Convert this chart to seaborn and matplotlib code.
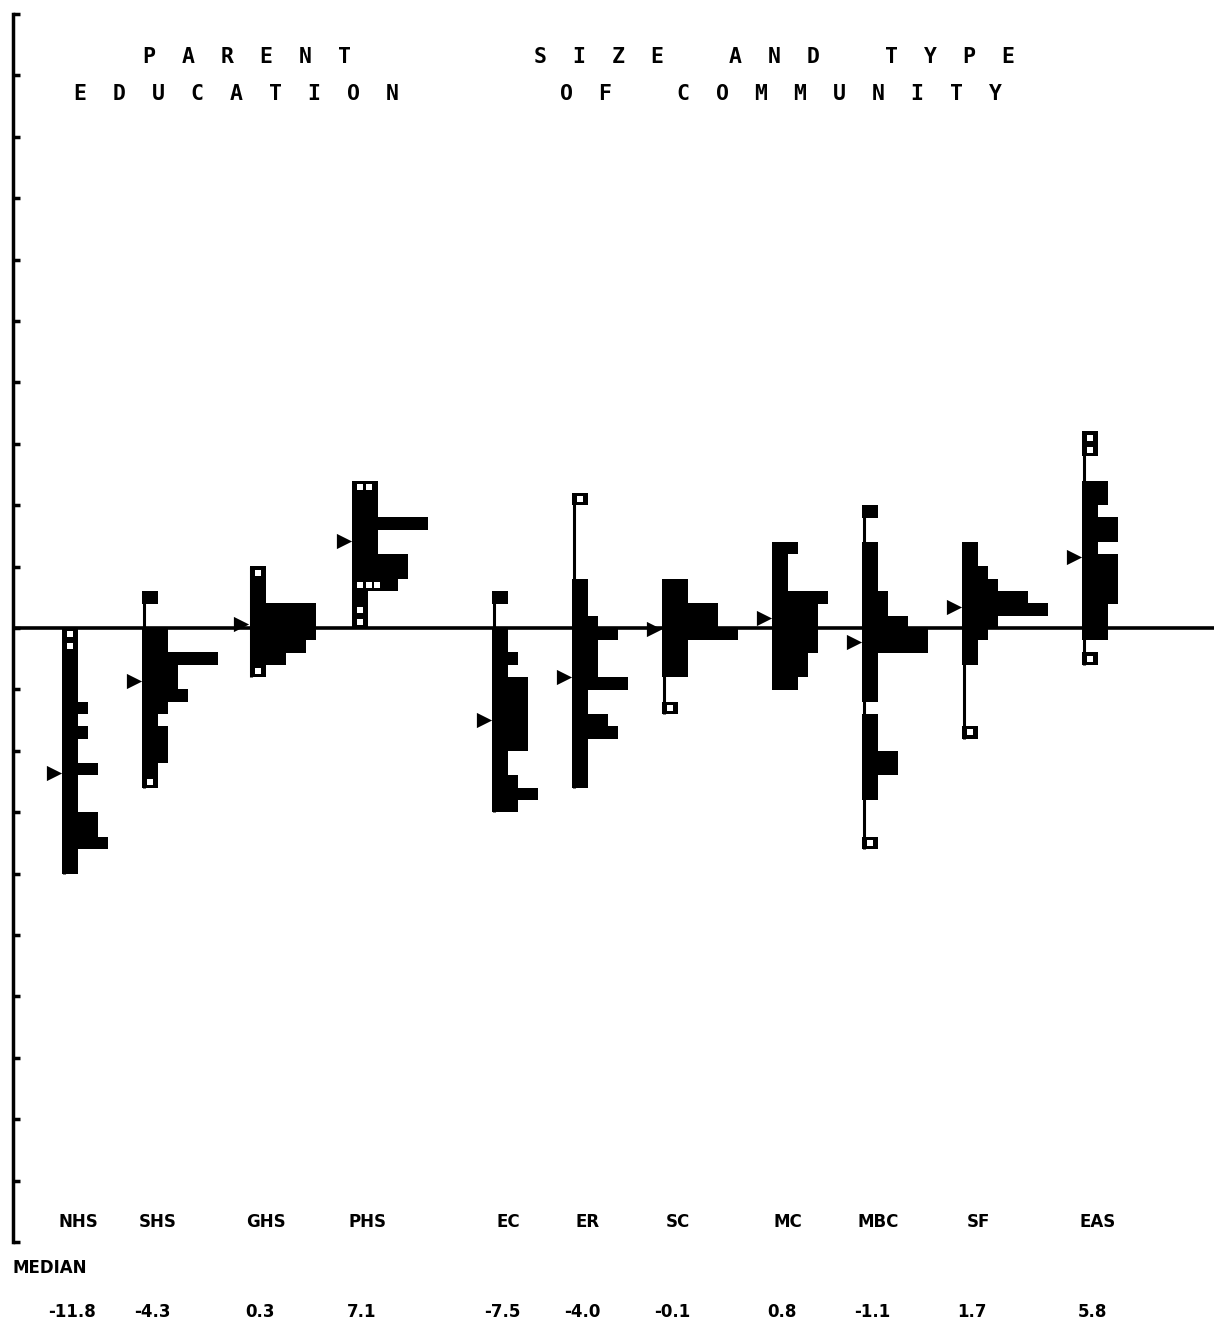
import numpy as np
import pandas as pd
import matplotlib
matplotlib.use("Agg")
import matplotlib.pyplot as plt
import seaborn as sns

# groups along the baseline and their medians
groups = ["NHS", "SHS", "GHS", "PHS", "EC", "ER", "SC", "MC", "MBC", "SF", "EAS"]
medians = [-11.8, -4.3, 0.3, 7.1, -7.5, -4.0, -0.1, 0.8, -1.1, 1.7, 5.8]

# stem-and-leaf rows: lowest bin, then number of cells per 1-point bin going up
nhs_start = -20
nhs_counts = [1, 1, 4, 3, 3, 1, 1, 1, 3, 1, 1, 2, 1, 2, 1, 1, 1, 1, 1, 1]
shs_start = -13
shs_counts = [1, 1, 2, 2, 2, 1, 2, 4, 3, 3, 7, 2, 2, 0, 0, 1]
ghs_start = -4
ghs_counts = [1, 3, 5, 6, 6, 6, 1, 1, 1]
phs_start = 0
phs_counts = [1, 1, 1, 4, 5, 5, 2, 2, 7, 2, 2, 2]
ec_start = -15
ec_counts = [2, 4, 2, 1, 1, 3, 3, 3, 3, 3, 3, 1, 2, 1, 1, 0, 0, 1]
er_start = -13
er_counts = [1, 1, 1, 1, 4, 3, 1, 1, 5, 2, 2, 2, 4, 2, 1, 1, 1, 0, 0, 0, 0, 0, 0, 1]
sc_start = -7
sc_counts = [1, 0, 0, 2, 2, 2, 7, 5, 5, 2, 2]
mc_start = -5
mc_counts = [2, 3, 3, 4, 4, 4, 4, 5, 1, 1, 1, 2]
mbc_start = -18
mbc_counts = [1, 0, 0, 0, 1, 1, 3, 3, 1, 1, 1, 0, 1, 1, 1, 1, 6, 6, 4, 2, 2, 1, 1, 1, 1, 0, 0, 1]
sf_start = -9
sf_counts = [1, 0, 0, 0, 0, 0, 1, 1, 2, 3, 8, 6, 3, 2, 1, 1]
eas_start = -3
eas_counts = [1, 0, 2, 2, 2, 3, 3, 3, 3, 1, 3, 3, 1, 2, 2, 0, 0, 1, 1]

# open (outlying) cells: (bin, cell index)
nhs_open = [(-2, 0), (-1, 0)]
shs_open = [(-13, 0)]
ghs_open = [(-4, 0), (4, 0)]
phs_open = [(0, 0), (1, 0), (3, 0), (3, 1), (3, 2), (11, 0), (11, 1)]
ec_open = []
er_open = [(10, 0)]
sc_open = [(-7, 0)]
mc_open = []
mbc_open = [(-18, 0)]
sf_open = [(-9, 0)]
eas_open = [(-3, 0), (14, 0), (15, 0)]

starts = [nhs_start, shs_start, ghs_start, phs_start, ec_start, er_start,
          sc_start, mc_start, mbc_start, sf_start, eas_start]
counts = [nhs_counts, shs_counts, ghs_counts, phs_counts, ec_counts, er_counts,
          sc_counts, mc_counts, mbc_counts, sf_counts, eas_counts]
opens = [nhs_open, shs_open, ghs_open, phs_open, ec_open, er_open,
         sc_open, mc_open, mbc_open, sf_open, eas_open]

# layout: stem position of each group (x units of 10 px)
group_x = [4.9, 12.9, 23.7, 33.9, 47.9, 55.9, 64.9, 75.9, 84.9, 94.9, 106.9]

rows, holes = [], []
for g, x0, s, cnt, op in zip(groups, group_x, starts, counts, opens):
    for i, n in enumerate(cnt):
        rows.append({"group": g, "x": x0, "bin": s + i, "n": n})
    for b, c in op:
        holes.append({"group": g, "hx": x0 + 0.75 + 0.9 * c, "hy": b + 0.5})
rows = pd.DataFrame(rows)
holes = pd.DataFrame(holes)
med = pd.DataFrame({"group": groups, "mx": [x - 0.85 for x in group_x], "median": medians})

sns.set_theme(style="white")
plt.rcParams["font.family"] = ["DejaVu Sans"]

fig = plt.figure(figsize=(12.14, 13.36), dpi=100)
ax = fig.add_axes([13 / 1214, 94 / 1336, 1201 / 1214, 1228 / 1336])
ax.set_xlim(0, 120.1)
ax.set_ylim(-50, 50)

ax.axhline(0, color="black", lw=2.6, zorder=1)

# stems
for g, grp in rows.groupby("group", sort=False):
    ax.vlines(grp["x"].iloc[0] + 0.15, grp["bin"].min(), grp["bin"].max() + 1,
              color="black", lw=2.2, zorder=2)

filled = rows[rows["n"] > 0]
ax.barh(filled["bin"] + 0.5, 0.6 + filled["n"], left=filled["x"], height=1.02,
        color="black", linewidth=0, zorder=3)

sns.scatterplot(data=holes, x="hx", y="hy", marker="s", color="white", s=22,
                linewidth=0, ax=ax, legend=False, zorder=4)
sns.scatterplot(data=med, x="mx", y="median", marker=">", color="black", s=120,
                linewidth=0, ax=ax, legend=False, zorder=4)

# left axis with tick stubs
sns.despine(ax=ax, top=True, right=True, bottom=True)
ax.spines["left"].set_linewidth(2.5)
ax.spines["left"].set_color("black")
ax.set_xticks([])
ax.set_yticks(np.arange(-50, 51, 5))
ax.tick_params(axis="y", left=True, direction="in", length=5, width=2.5,
               color="black", labelleft=False)
ax.set_xlabel("")
ax.set_ylabel("")

def spaced(words):
    return "     ".join("  ".join(w) for w in words.split())

tfont = dict(family="DejaVu Sans Mono", fontweight="bold", fontsize=15.5,
             ha="center", va="center", color="black")
ax.text(23.4, 46.5, spaced("PARENT"), **tfont)
ax.text(22.4, 43.5, spaced("EDUCATION"), **tfont)
ax.text(76.2, 46.5, spaced("SIZE AND TYPE"), **tfont)
ax.text(76.8, 43.5, spaced("OF COMMUNITY"), **tfont)

lfont = dict(fontweight="bold", fontsize=12, va="center", color="black", clip_on=False)
for g, x0, m in zip(groups, group_x, medians):
    ax.text(x0 + 1.6, -48.4, g, ha="center", **lfont)
    ax.text(x0 + 1.0, -55.7, f"{m:.1f}", ha="center", **lfont)
ax.text(-0.1, -52.1, "MEDIAN", ha="left", **lfont)

fig.savefig("out.png", dpi=100, facecolor="white")
